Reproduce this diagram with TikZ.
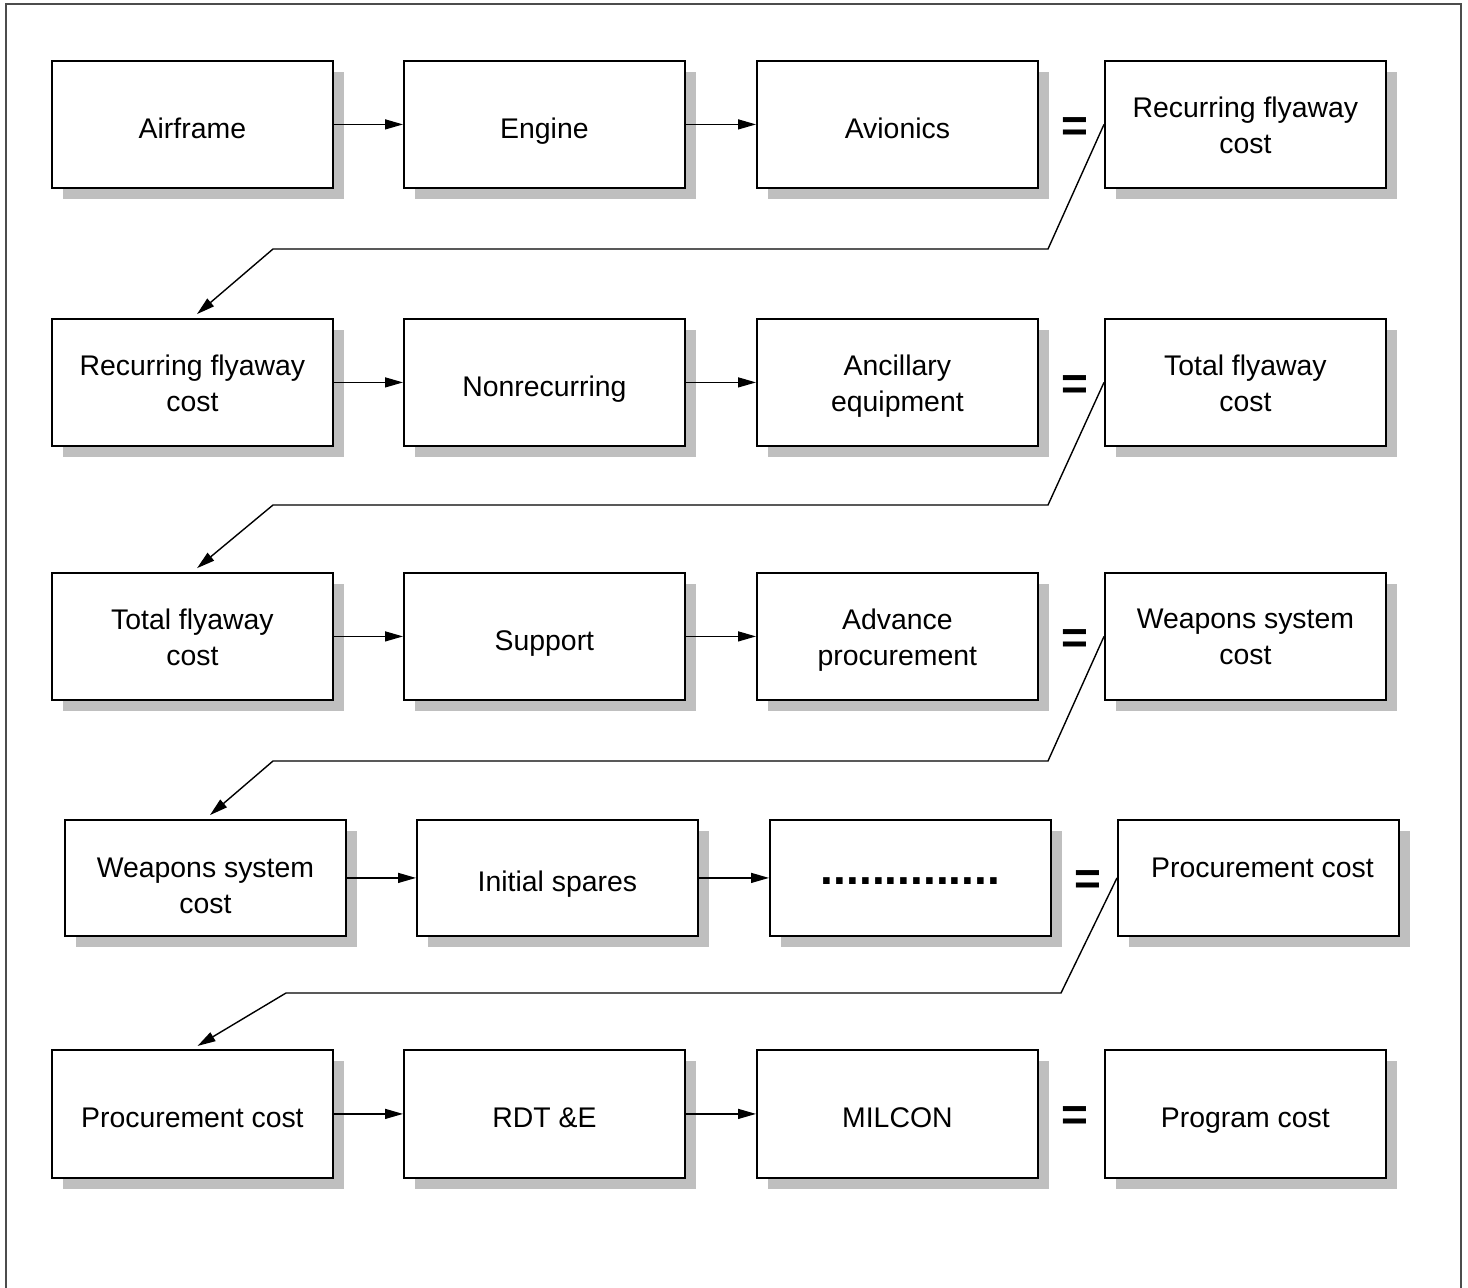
\documentclass[tikz,border=0pt]{standalone}
\usepackage{fontspec}
\setmainfont{Liberation Sans}
\usetikzlibrary{arrows.meta,shadows}
\newcommand{\dotrow}{\raisebox{3.75pt}{\fontsize{23}{26}\selectfont\bfseries ..............}}
\newcommand{\boxstrut}{\rule[-3.3pt]{0pt}{20.5pt}}
\newcommand{\pair}[3][2pt]{\raisebox{-#1}[\height][\depth]{#2}\\\raisebox{-#1}[\height][\depth]{#3}}
\tikzset{
  box/.style={draw,fill=white,line width=0.9pt,anchor=north west,inner sep=2pt,
    minimum width=140.5pt,align=center,font=\fontsize{14.2}{18}\selectfont,
    execute at begin node=\boxstrut,
    drop shadow={shadow xshift=5.5pt,shadow yshift=-5.5pt,fill=black!25,opacity=1}},
  arr/.style={-{Triangle[length=9pt,width=5pt]},line width=0.7pt},
  link/.style={arr,shorten >=3pt},
  eq/.style={font=\fontsize{23}{26}\selectfont\bfseries},
  frame/.style={draw=black!70,line width=1.2pt}
}
\begin{document}
\begin{tikzpicture}[x=0.5pt,y=-0.5pt]
\useasboundingbox (0,0) rectangle (1468,1287);
\draw[frame] (6,1295) -- (6,4) -- (1461,4) -- (1461,1295);
% rows of cost elements
\foreach \r/\y/\dx/\h/\ta/\tb/\tc/\td in {
  1/60/0/127/Airframe/Engine/Avionics/{\pair{Recurring flyaway}{cost}},
  2/318/0/127/{\pair{Recurring flyaway}{cost}}/Nonrecurring/{\pair{Ancillary}{equipment}}/{\pair{Total flyaway}{cost}},
  3/572/0/127/{\pair{Total flyaway}{cost}}/Support/{\pair{Advance}{procurement}}/{\pair{Weapons system}{cost}},
  4/819/13/116/{\pair[5.5pt]{Weapons system}{cost}}/{Initial spares}/{\dotrow}/{\raisebox{7pt}{\hspace{4pt}Procurement cost}},
  5/1049/0/128/{Procurement cost}/{RDT \&E}/MILCON/{Program cost}} {
  \node[box,minimum height={\h*0.5pt}] (n\r-1) at (51+\dx,\y) {\ta};
  \node[box,minimum height={\h*0.5pt}] (n\r-2) at (403+\dx,\y) {\tb};
  \node[box,minimum height={\h*0.5pt}] (n\r-3) at (756+\dx,\y) {\tc};
  \node[box,minimum height={\h*0.5pt}] (n\r-4) at (1104+\dx,\y) {\td};
  \node[eq] (eq\r) at (1075+\dx,\y+\h/2+6) {=};
  \draw[arr] (n\r-1.east) -- (n\r-2.west);
  \draw[arr] (n\r-2.east) -- (n\r-3.west);
}
% result carried to the next row
\foreach \r/\s/\yb/\dx in {1/2/249/0,2/3/505/0,3/4/761/0,4/5/993/13}
  \draw[link] (n\r-4.west) -- (1048+\dx,\yb) -- (273+\dx,\yb) -- (n\s-1.north);
\end{tikzpicture}
\end{document}
